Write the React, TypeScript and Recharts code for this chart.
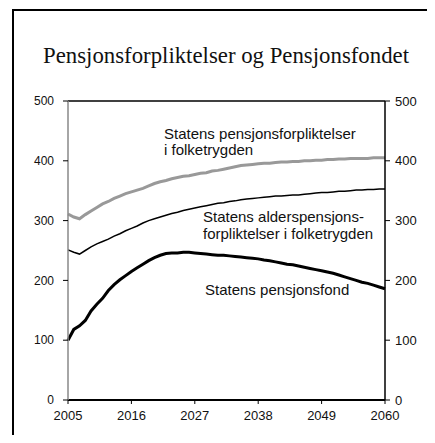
import React from 'react';
import { LineChart, Line, XAxis, YAxis, ReferenceLine } from 'recharts';

const years = [
    2005, 2006, 2007, 2008, 2009, 2010, 2011, 2012, 2013, 2014, 2015, 2016, 2017, 2018,
    2019, 2020, 2021, 2022, 2023, 2024, 2025, 2026, 2027, 2028, 2029, 2030, 2031, 2032,
    2033, 2034, 2035, 2036, 2037, 2038, 2039, 2040, 2041, 2042, 2043, 2044, 2045, 2046,
    2047, 2048, 2049, 2050, 2051, 2052, 2053, 2054, 2055, 2056, 2057, 2058, 2059, 2060,
];

// Statens pensjonsforpliktelser i folketrygden
const forpliktelser = [
    311, 306, 303, 310, 316, 322, 328, 332, 337, 341, 345, 348, 351, 354,
    358, 362, 365, 367, 370, 372, 374, 375, 377, 379, 380, 383, 384, 386,
    388, 390, 392, 393, 394, 395, 396, 396, 397, 398, 398, 399, 399, 400,
    400, 401, 401, 402, 402, 403, 403, 404, 404, 404, 404, 405, 405, 405,
];

// Statens alderspensjonsforpliktelser i folketrygden
const alderspensjon = [
    251, 247, 244, 250, 256, 261, 265, 269, 274, 278, 283, 287, 291, 296,
    300, 303, 306, 309, 312, 314, 317, 319, 321, 323, 325, 327, 329, 330,
    332, 333, 335, 336, 337, 338, 339, 340, 341, 341, 342, 343, 343, 344,
    345, 346, 347, 347, 348, 349, 349, 350, 351, 351, 352, 352, 353, 353,
];

// Statens pensjonsfond
const pensjonsfond = [
    100, 118, 124, 133, 149, 160, 170, 183, 193, 201, 208, 215, 221, 227,
    233, 238, 242, 245, 246, 246, 247, 247, 246, 245, 244, 243, 242, 242,
    241, 240, 239, 238, 237, 236, 234, 233, 231, 229, 227, 226, 224, 222,
    220, 218, 216, 214, 212, 209, 206, 203, 200, 197, 195, 192, 189, 186,
];

const xTicks = [2005, 2016, 2027, 2038, 2049, 2060];
const yTicks = [0, 100, 200, 300, 400, 500];

const data = years.map((year, i) => ({
    year,
    forpliktelser: forpliktelser[i],
    alderspensjon: alderspensjon[i],
    pensjonsfond: pensjonsfond[i],
}));

const sans = '"Liberation Sans", Arial, sans-serif';
const serif = '"Liberation Serif", "Times New Roman", serif';

const App: React.FC = () => {
    return (
        <div style={{ position: 'relative', width: 435, height: 443, margin: -8, overflow: 'hidden', background: '#fff' }}>
            <div
                style={{
                    position: 'absolute',
                    left: 12,
                    top: 9,
                    width: 460,
                    height: 470,
                    borderLeft: '2px solid #000',
                    borderTop: '2px solid #000',
                }}
            />
            <div style={{ position: 'absolute', left: 0, top: 0 }}>
                <LineChart
                    width={435}
                    height={443}
                    data={data}
                    margin={{ top: 101, right: 12, bottom: 18, left: 30 }}
                    style={{ fontFamily: sans }}
                >
                    <XAxis
                        dataKey="year"
                        type="number"
                        domain={[2005, 2060]}
                        ticks={xTicks}
                        interval={0}
                        height={25}
                        tickSize={4}
                        tickMargin={7}
                        axisLine={{ stroke: '#000', strokeWidth: 2 }}
                        tickLine={{ stroke: '#000' }}
                        tick={{ fontSize: 13, fill: '#111', fontFamily: sans }}
                    />
                    <YAxis
                        yAxisId="left"
                        domain={[0, 500]}
                        ticks={yTicks}
                        interval={0}
                        width={38}
                        tickSize={5}
                        tickMargin={9}
                        axisLine={{ stroke: '#888', strokeWidth: 1.5 }}
                        tickLine={{ stroke: '#000' }}
                        tick={{ fontSize: 12, fill: '#111', fontFamily: sans }}
                    />
                    <YAxis
                        yAxisId="right"
                        orientation="right"
                        type="number"
                        domain={[0, 500]}
                        allowDataOverflow
                        ticks={yTicks}
                        interval={0}
                        width={38}
                        tickSize={5}
                        tickMargin={5}
                        axisLine={{ stroke: '#000', strokeWidth: 1.5 }}
                        tickLine={{ stroke: '#000' }}
                        tick={{ fontSize: 13, fill: '#111', fontFamily: sans }}
                    />
                    <ReferenceLine yAxisId="left" y={500} stroke="#000" strokeWidth={1.5} />
                    <Line
                        yAxisId="left"
                        dataKey="forpliktelser"
                        stroke="#999"
                        strokeWidth={3}
                        dot={false}
                        type="linear"
                        isAnimationActive={false}
                    />
                    <Line
                        yAxisId="left"
                        dataKey="alderspensjon"
                        stroke="#000"
                        strokeWidth={1.5}
                        dot={false}
                        type="linear"
                        isAnimationActive={false}
                    />
                    <Line
                        yAxisId="left"
                        dataKey="pensjonsfond"
                        stroke="#000"
                        strokeWidth={3}
                        dot={false}
                        type="linear"
                        isAnimationActive={false}
                    />
                </LineChart>
            </div>
            <svg
                width={435}
                height={443}
                style={{ position: 'absolute', left: 0, top: 0, pointerEvents: 'none' }}
            >
                <text x={226} y={63} textAnchor="middle" fontFamily={serif} fontSize={22.8} fill="#111">
                    Pensjonsforpliktelser og Pensjonsfondet
                </text>
                <g fontFamily={sans} fontSize={15} fill="#111">
                    <text x={164} y={139}>Statens pensjonsforpliktelser</text>
                    <text x={164} y={155}>i folketrygden</text>
                    <text x={203} y={222}>Statens alderspensjons-</text>
                    <text x={203} y={239}>forpliktelser i folketrygden</text>
                    <text x={205} y={295}>Statens pensjonsfond</text>
                </g>
            </svg>
        </div>
    );
};

export default App;
